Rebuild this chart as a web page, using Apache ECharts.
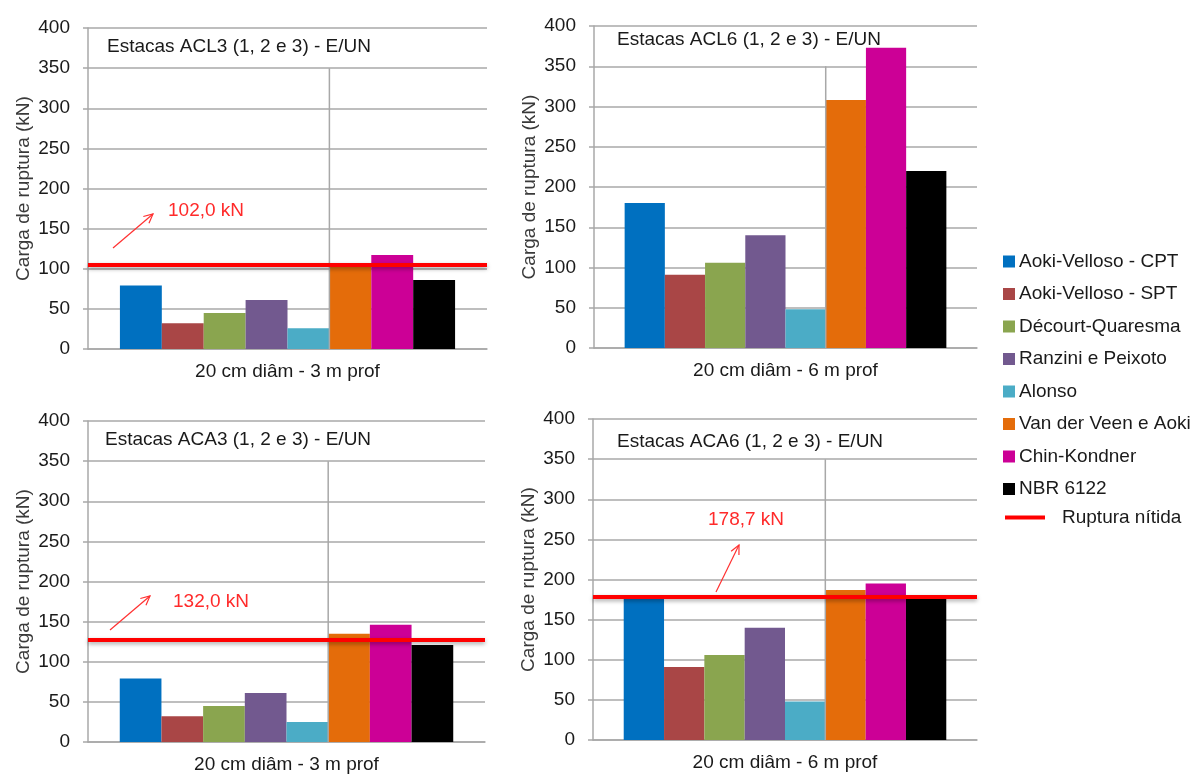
<!DOCTYPE html>
<html>
<head>
<meta charset="utf-8">
<script src="https://cdn.jsdelivr.net/npm/echarts@6/dist/echarts.min.js"></script>
<style>
  html, body { margin: 0; background: #fff; }
  #chart { width: 1203px; height: 776px; }
</style>
</head>
<body>
<div id="chart"></div>
<script>
// métodos de cálculo (ordem das barras) e cores
const metodos = ['Aoki-Velloso - CPT', 'Aoki-Velloso - SPT', 'Décourt-Quaresma', 'Ranzini e Peixoto',
  'Alonso', 'Van der Veen e Aoki', 'Chin-Kondner', 'NBR 6122'];
const cores = ['#0070C0', '#A94646', '#8AA54F', '#72598F', '#4BACC6', '#E46C0A', '#CC0096', '#000000'];

const titulos = ['Estacas ACL3 (1, 2 e 3) - E/UN', 'Estacas ACL6 (1, 2 e 3) - E/UN',
  'Estacas ACA3 (1, 2 e 3) - E/UN', 'Estacas ACA6 (1, 2 e 3) - E/UN'];
const categorias = ['20 cm diâm - 3 m prof', '20 cm diâm - 6 m prof', '20 cm diâm - 3 m prof', '20 cm diâm - 6 m prof'];

// carga de ruptura (kN) por método
const acl3 = [79, 32, 45, 61, 26, 104, 117, 86];
const acl6 = [180, 91, 106, 140, 48, 308, 373, 220];
const aca3 = [79, 32, 45, 61, 25, 135, 146, 121];
const aca6 = [178, 91, 106, 140, 48, 187, 195, 177];

// ruptura nítida (posição da linha e texto da anotação)
const ruptura = [105, null, 127, 179];
const rupturaTexto = ['102,0 kN', null, '132,0 kN', '178,7 kN'];

const yMin = 0, yMax = 400, yStep = 50;

// layout
const grids = [
  { left: 88, top: 28, width: 399, height: 321 },
  { left: 594, top: 26, width: 383, height: 322 },
  { left: 88, top: 421, width: 397, height: 321 },
  { left: 593, top: 419, width: 384, height: 321 }
];
const tituloPos = [[107, 47], [617, 40], [105, 440], [617, 442]];
const notas = [
  { de: [113, 248], ate: [153, 214], txt: [168, 211] },
  null,
  { de: [110, 630], ate: [150, 596], txt: [173, 602] },
  { de: [716, 592], ate: [739, 545], txt: [708, 520] }
];
const gapCat = 0.16;
const fonte = '"Liberation Sans", Arial, sans-serif';
const cinza = '#a8a8a8';

const dados = [acl3, acl6, aca3, aca6];

const chart = echarts.init(document.getElementById('chart'), null, { renderer: 'canvas' });

const series = [];
dados.forEach((vals, g) => {
  vals.forEach((v, k) => {
    series.push({
      name: metodos[k], type: 'bar', xAxisIndex: g, yAxisIndex: g,
      data: [v], barGap: 0, barCategoryGap: (gapCat * 100) + '%',
      itemStyle: { color: cores[k] }, silent: true
    });
  });
  if (ruptura[g] != null) {
    series.push({
      name: 'Ruptura nítida', type: 'line', xAxisIndex: g, yAxisIndex: g,
      data: [null], color: '#ff0000', showSymbol: false, z: 5,
      markLine: {
        silent: true, symbol: ['none', 'none'], label: { show: false },
        lineStyle: { color: '#ff0000', width: 4, type: 'solid',
          shadowColor: 'rgba(0,0,0,0.35)', shadowBlur: 4, shadowOffsetY: 2 },
        data: [{ yAxis: ruptura[g] }]
      }
    });
  }
});

// linha vertical entre Alonso e Van der Veen (do 0 ao 350) e anotações
const graphic = [];
grids.forEach((gr, g) => {
  const bw = gr.width * (1 - gapCat) / metodos.length;
  const x = gr.left + gr.width * gapCat / 2 + 5 * bw;
  const yTop = gr.top + gr.height * (yMax - 350) / (yMax - yMin);
  graphic.push({ type: 'line', z: 4, silent: true,
    shape: { x1: x, y1: yTop, x2: x, y2: gr.top + gr.height },
    style: { stroke: cinza, lineWidth: 1.5 } });
  graphic.push({ type: 'text', left: tituloPos[g][0], top: tituloPos[g][1] - 10, z: 10,
    style: { text: titulos[g], font: '19px ' + fonte, fill: '#1a1a1a' } });
  const n = notas[g];
  if (n) {
    const [x1, y1] = n.de, [x2, y2] = n.ate;
    const ang = Math.atan2(y1 - y2, x1 - x2), L = 10, a = 0.45;
    graphic.push({ type: 'polyline', z: 10, silent: true,
      shape: { points: [[x1, y1], [x2, y2]] }, style: { stroke: '#ff3030', lineWidth: 1.2 } });
    graphic.push({ type: 'polyline', z: 10, silent: true,
      shape: { points: [[x2 + L * Math.cos(ang + a), y2 + L * Math.sin(ang + a)], [x2, y2],
        [x2 + L * Math.cos(ang - a), y2 + L * Math.sin(ang - a)]] },
      style: { stroke: '#ff3030', lineWidth: 1.2, fill: null } });
    graphic.push({ type: 'text', left: n.txt[0], top: n.txt[1] - 10, z: 10,
      style: { text: rupturaTexto[g], font: '19px ' + fonte, fill: '#ff2a2a' } });
  }
});

const option = {
  animation: false,
  textStyle: { fontFamily: fonte },
  grid: grids.map(gr => Object.assign({ containLabel: false }, gr)),
  xAxis: grids.map((gr, g) => ({
    type: 'category', gridIndex: g, data: [categorias[g]],
    axisLine: { lineStyle: { color: cinza, width: 1.5 } },
    axisTick: { show: false },
    axisLabel: { margin: 13, fontSize: 19, color: '#1a1a1a' }
  })),
  yAxis: grids.map((gr, g) => ({
    type: 'value', gridIndex: g, min: yMin, max: yMax, interval: yStep,
    name: 'Carga de ruptura (kN)', nameLocation: 'middle', nameGap: 55,
    nameTextStyle: { fontSize: 19, color: '#3a3a3a' },
    axisLine: { show: true, lineStyle: { color: cinza, width: 1.5 } },
    axisTick: { show: true, length: 5, lineStyle: { color: cinza, width: 1.5 } },
    axisLabel: { margin: 18, fontSize: 19, color: '#1a1a1a' },
    splitLine: { lineStyle: { color: cinza, width: 1.5 } }
  })),
  legend: [
    { orient: 'vertical', left: 1003, top: 252, padding: 0, itemGap: 13.5,
      itemWidth: 12, itemHeight: 12, icon: 'rect', selectedMode: false,
      textStyle: { fontSize: 19, color: '#1a1a1a', padding: [0, 0, 0, -1] },
      data: metodos },
    { orient: 'vertical', left: 1005, top: 508, padding: 0,
      itemWidth: 40, itemHeight: 4, selectedMode: false,
      textStyle: { fontSize: 19, color: '#1a1a1a', padding: [0, 0, 0, 12] },
      data: [{ name: 'Ruptura nítida', icon: 'rect' }] }
  ],
  graphic: graphic,
  series: series
};

chart.setOption(option);
</script>
</body>
</html>
